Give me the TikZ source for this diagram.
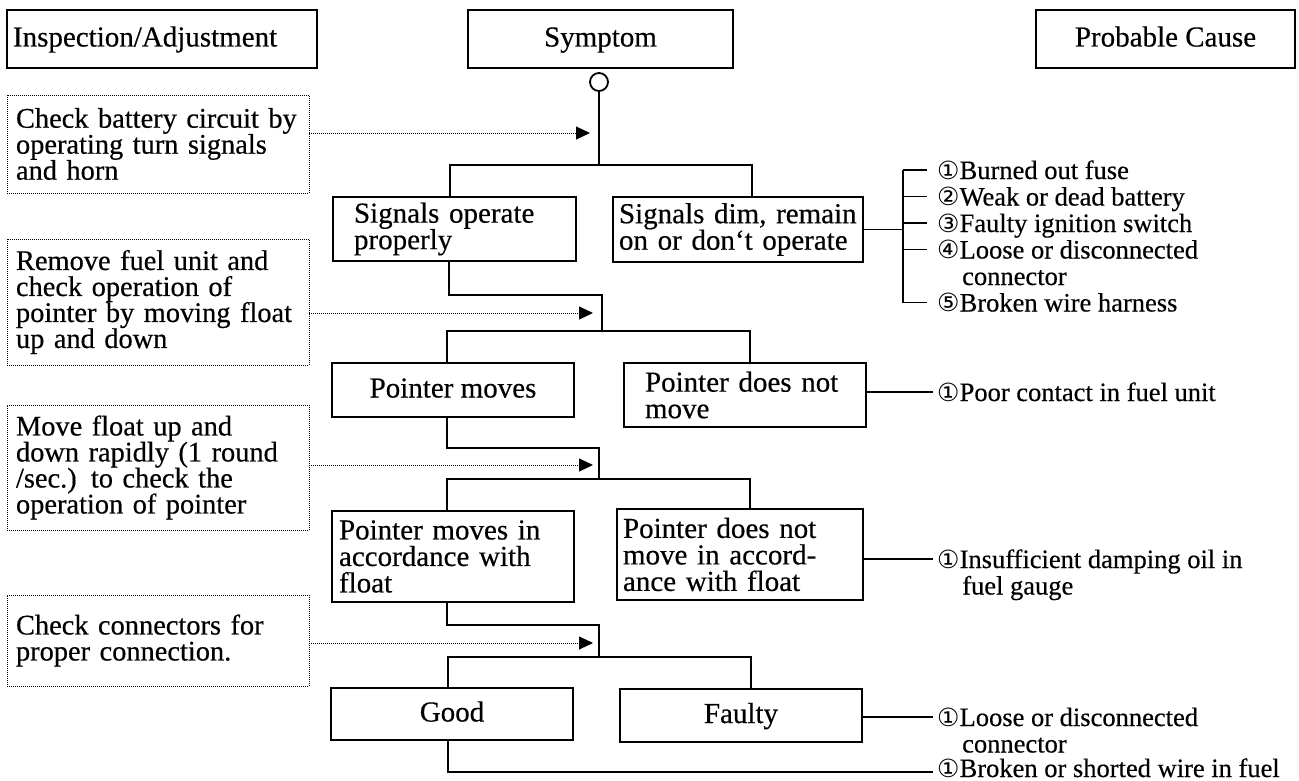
\documentclass[tikz,border=0pt]{standalone}
\usepackage{fontspec}
\setmainfont[FakeBold=0.4]{Liberation Serif}
\newfontfamily\symf{DejaVu Sans}
\usetikzlibrary{arrows.meta,calc}
\newcommand\mf{\fontsize{29}{26.5}\selectfont\lineskiplimit=-100pt\lineskip=0pt}
\newcommand\df{\fontsize{28.4}{26}\selectfont\lineskiplimit=-100pt\lineskip=0pt}
\newcommand\rf{\fontsize{26.5}{26.5}\selectfont}
\newcommand\cd[1]{{\fontsize{25}{26}\symf #1}}
\begin{document}
\begin{tikzpicture}[x=1pt,y=-1pt,
  solidbox/.style={draw, line width=1.8pt, inner ysep=0pt, font=\mf},
  onebox/.style={solidbox, text height=20pt, text depth=5pt},
  dotbox/.style={draw, line width=0.9pt, dash pattern=on 1pt off 1pt, inner ysep=0pt, font=\df, align=left},
  conn/.style={line width=1.8pt},
  dotarrow/.style={line width=0.9pt, dash pattern=on 1pt off 1pt, -{Triangle[length=14pt,width=13pt]}},
  cause/.style={font=\rf, inner sep=0pt, text height=18pt, text depth=0pt, anchor=west},
  contline/.style={font=\rf, inner sep=0pt, anchor=base west}]
\fill[white] (0,0) rectangle (1299,781);
\useasboundingbox (0,0) rectangle (1299,781);

% headers
\node[onebox, minimum width=310, minimum height=58, text width=298, inner xsep=6pt, align=left] (hl) at (162,39) {Inspection/Adjustment};
\node[onebox, minimum width=265, minimum height=58] (hm) at (600.5,39) {Symptom};
\node[onebox, minimum width=259, minimum height=58] (hr) at (1165.5,39) {Probable Cause};
\node[circle, draw, line width=1.8pt, minimum size=18pt, inner sep=0pt] (c0) at (599,82) {};

% inspection boxes
\node[dotbox, minimum width=302, minimum height=98, text width=284, inner xsep=9pt] (d1) at (158,144)
  {\mbox{Check battery circuit by}\\\mbox{operating turn signals}\\\mbox{and horn}};
\node[dotbox, minimum width=302, minimum height=126, text width=284, inner xsep=9pt] (d2) at (158,302)
  {\mbox{Remove fuel unit and}\\\mbox{check operation of}\\\mbox{pointer by moving float}\\\mbox{up and down}};
\node[dotbox, minimum width=302, minimum height=125, text width=284, inner xsep=9pt] (d3) at (158,467.5)
  {\mbox{Move float up and}\\\mbox{down rapidly (1 round}\\\mbox{/sec.) to check the}\\\mbox{operation of pointer}};
\node[dotbox, minimum width=302, minimum height=91, text width=284, inner xsep=9pt] (d4) at (158,640.5)
  {\mbox{Check connectors for}\\\mbox{proper connection.}};

% symptom boxes
\node[solidbox, minimum width=243, minimum height=64, text width=201, inner xsep=21pt, align=left] (b1) at (454.5,229)
  {\mbox{Signals operate}\\\mbox{properly}};
\node[solidbox, minimum width=250, minimum height=65, text width=238, inner xsep=6pt, align=left] (b2) at (738,229.5)
  {\mbox{Signals dim, remain}\\\mbox{on or don‘t operate}};
\node[onebox, minimum width=242, minimum height=54] (b3) at (453,390) {Pointer moves};
\node[solidbox, minimum width=242, minimum height=64, text width=200, inner xsep=21pt, align=left] (b4) at (745,395)
  {\mbox{Pointer does not}\\\mbox{move}};
\node[solidbox, minimum width=242, minimum height=91, text width=228, inner xsep=7pt, align=left] (b5) at (453,556.5)
  {\mbox{Pointer moves in}\\\mbox{accordance with}\\\mbox{float}};
\node[solidbox, minimum width=246, minimum height=91, text width=234, inner xsep=6pt, align=left] (b6) at (740,554.5)
  {\mbox{Pointer does not}\\\mbox{move in accord-}\\\mbox{ance with float}};
\node[onebox, minimum width=242, minimum height=52] (b7) at (452,714) {Good};
\node[onebox, minimum width=242, minimum height=53] (b8) at (741,715.5) {Faulty};

% probable causes
\node[cause] (i1) at (937,170) {\cd{①}Burned out fuse};
\node[cause] (i2) at (937,196.5) {\cd{②}Weak or dead battery};
\node[cause] (i3) at (937,223) {\cd{③}Faulty ignition switch};
\node[cause] (i4) at (937,249.5) {\cd{④}Loose or disconnected};
\node[contline] (i4c) at ([xshift=25pt,yshift=-26.5pt]i4.base west) {connector};
\node[cause] (i5) at (937,302.5) {\cd{⑤}Broken wire harness};
\node[cause] (p1) at (937,392) {\cd{①}Poor contact in fuel unit};
\node[cause] (p2) at (937,559) {\cd{①}Insufficient damping oil in};
\node[contline] (p2c) at ([xshift=25pt,yshift=-26.5pt]p2.base west) {fuel gauge};
\node[cause] (p3) at (937,717) {\cd{①}Loose or disconnected};
\node[contline] (p3c) at ([xshift=25pt,yshift=-26.5pt]p3.base west) {connector};
\node[cause] (p4) at (937,768) {\cd{①}Broken or shorted wire in fuel};

% tree connectors
\coordinate (j1a) at (450,165); \coordinate (j1b) at (752,165);
\draw[conn] (c0.south) -- (c0.south |- j1a);
\draw[conn] (b1.north -| j1a) -- (j1a) -- (j1b) -- (b2.north -| j1b);

\coordinate (e1) at (449,295); \coordinate (e2) at (602,331);
\coordinate (h2a) at (447,331); \coordinate (h2b) at (750,331);
\draw[conn] (b1.south -| e1) -- (e1) -| (e2);
\draw[conn] (b3.north -| h2a) -- (h2a) -- (h2b) -- (b4.north -| h2b);

\coordinate (e3) at (447,448); \coordinate (e4) at (599,479);
\coordinate (h3a) at (447,479); \coordinate (h3b) at (750,479);
\draw[conn] (b3.south -| e3) -- (e3) -| (e4);
\draw[conn] (b5.north -| h3a) -- (h3a) -- (h3b) -- (b6.north -| h3b);

\coordinate (e5) at (447,625); \coordinate (e6) at (599,657);
\coordinate (h4a) at (448,657); \coordinate (h4b) at (751,657);
\draw[conn] (b5.south -| e5) -- (e5) -| (e6);
\draw[conn] (b7.north -| h4a) -- (h4a) -- (h4b) -- (b8.north -| h4b);

\coordinate (e7) at (448,772);
\draw[conn] (b7.south -| e7) -- (e7) -- ([xshift=-4pt]e7 -| p4.west);

% inspection arrows
\coordinate (a1) at (590,133); \coordinate (a2) at (593,313);
\coordinate (a3) at (593,465); \coordinate (a4) at (593,643);
\draw[dotarrow] (d1.east |- a1) -- (a1);
\draw[dotarrow] (d2.east |- a2) -- (a2);
\draw[dotarrow] (d3.east |- a3) -- (a3);
\draw[dotarrow] (d4.east |- a4) -- (a4);

% cause connectors
\coordinate (br) at (903,230);
\draw[conn] (b2.east) -- (b2.east -| br);
\draw[conn] (br |- i1.west) -- (br |- i5.west);
\foreach \n in {i1,i2,i3,i4,i5} \draw[conn] (br |- \n.west) -- ([xshift=-10pt]\n.west);
\draw[conn] (b4.east |- p1.west) -- ([xshift=-4pt]p1.west);
\draw[conn] (b6.east |- p2.west) -- ([xshift=-4pt]p2.west);
\draw[conn] (b8.east |- p3.west) -- ([xshift=-4pt]p3.west);
\end{tikzpicture}
\end{document}
